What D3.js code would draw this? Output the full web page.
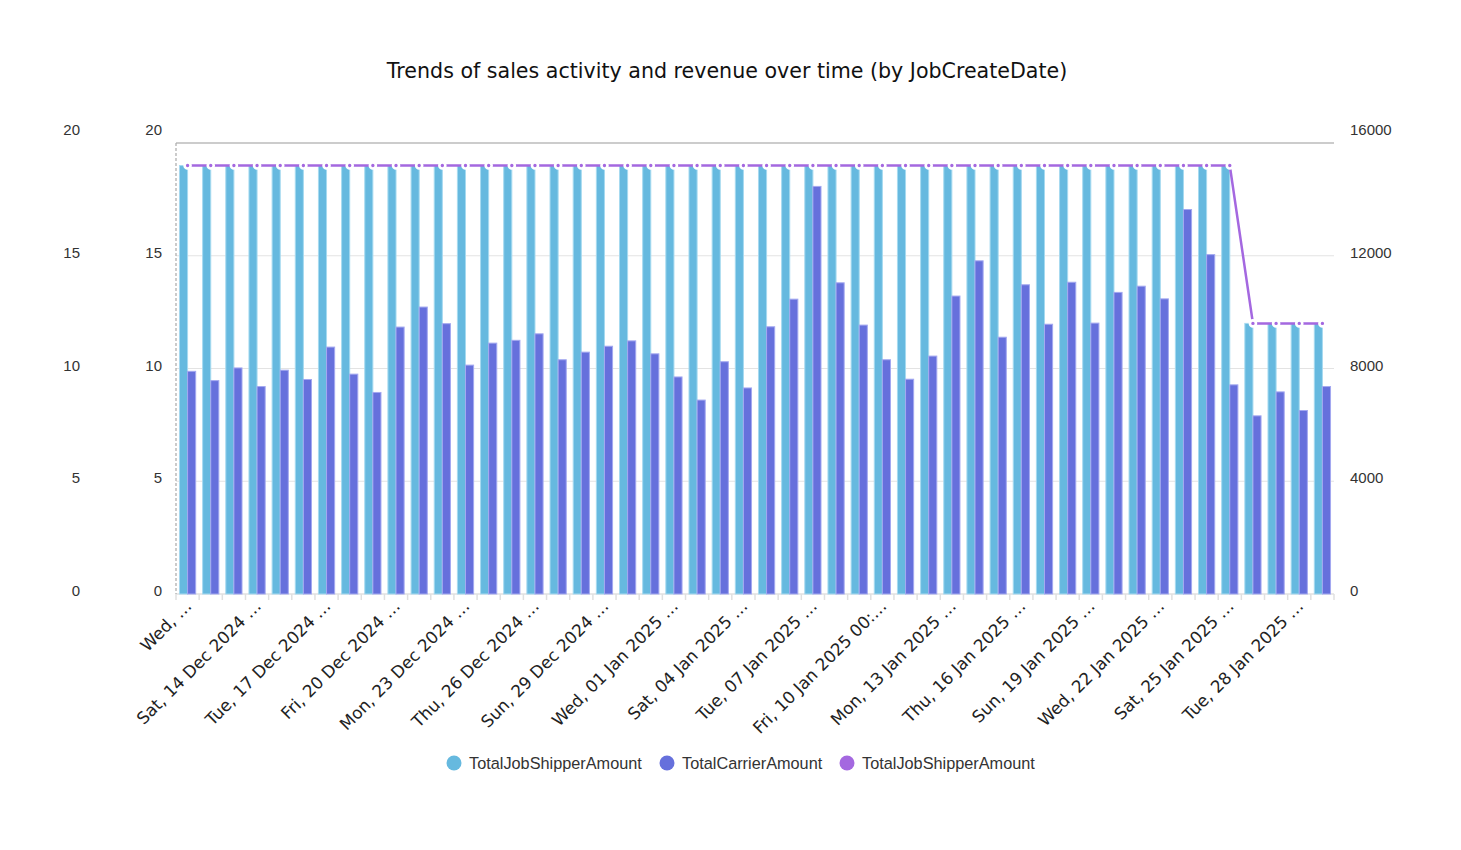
<!DOCTYPE html>
<html>
<head>
<meta charset="utf-8">
<script src="https://cdn.jsdelivr.net/npm/d3@7"></script>
<style>
  body { margin: 0; background: #fff; }
  svg text { fill: #333; }
</style>
</head>
<body>
<svg id="chart" width="1461" height="850"></svg>
<script>
// one entry per JobCreateDate
var categories = [
  "Wed, 11 Dec 2024", "Thu, 12 Dec 2024", "Fri, 13 Dec 2024", "Sat, 14 Dec 2024", "Sun, 15 Dec 2024",
  "Mon, 16 Dec 2024", "Tue, 17 Dec 2024", "Wed, 18 Dec 2024", "Thu, 19 Dec 2024", "Fri, 20 Dec 2024",
  "Sat, 21 Dec 2024", "Sun, 22 Dec 2024", "Mon, 23 Dec 2024", "Tue, 24 Dec 2024", "Wed, 25 Dec 2024",
  "Thu, 26 Dec 2024", "Fri, 27 Dec 2024", "Sat, 28 Dec 2024", "Sun, 29 Dec 2024", "Mon, 30 Dec 2024",
  "Tue, 31 Dec 2024", "Wed, 01 Jan 2025", "Thu, 02 Jan 2025", "Fri, 03 Jan 2025", "Sat, 04 Jan 2025",
  "Sun, 05 Jan 2025", "Mon, 06 Jan 2025", "Tue, 07 Jan 2025", "Wed, 08 Jan 2025", "Thu, 09 Jan 2025",
  "Fri, 10 Jan 2025", "Sat, 11 Jan 2025", "Sun, 12 Jan 2025", "Mon, 13 Jan 2025", "Tue, 14 Jan 2025",
  "Wed, 15 Jan 2025", "Thu, 16 Jan 2025", "Fri, 17 Jan 2025", "Sat, 18 Jan 2025", "Sun, 19 Jan 2025",
  "Mon, 20 Jan 2025", "Tue, 21 Jan 2025", "Wed, 22 Jan 2025", "Thu, 23 Jan 2025", "Fri, 24 Jan 2025",
  "Sat, 25 Jan 2025", "Sun, 26 Jan 2025", "Mon, 27 Jan 2025", "Tue, 28 Jan 2025", "Wed, 29 Jan 2025"
];

// bar series on the first left axis
var shipperBars = [
  19, 19, 19, 19, 19, 19, 19, 19, 19, 19,
  19, 19, 19, 19, 19, 19, 19, 19, 19, 19,
  19, 19, 19, 19, 19, 19, 19, 19, 19, 19,
  19, 19, 19, 19, 19, 19, 19, 19, 19, 19,
  19, 19, 19, 19, 19, 19, 12, 12, 12, 12
];

// bar series on the right axis
var carrierBars = [
  7900, 7570, 8020, 7360, 7940, 7610, 8760, 7800, 7150, 9470,
  10180, 9590, 8120, 8900, 9000, 9230, 8310, 8580, 8790, 8980,
  8520, 7700, 6880, 8240, 7310, 9480, 10460, 14460, 11040, 9540,
  8310, 7620, 8440, 10570, 11820, 9110, 10970, 9570, 11060, 9610,
  10700, 10920, 10470, 13640, 12040, 7420, 6320, 7170, 6510, 7360
];

// line series on the second left axis
var shipperLine = [
  19, 19, 19, 19, 19, 19, 19, 19, 19, 19,
  19, 19, 19, 19, 19, 19, 19, 19, 19, 19,
  19, 19, 19, 19, 19, 19, 19, 19, 19, 19,
  19, 19, 19, 19, 19, 19, 19, 19, 19, 19,
  19, 19, 19, 19, 19, 19, 12, 12, 12, 12
];

// labels shown under every third category
var tickLabels = [
  "Wed, \u2026", "Sat, 14 Dec 2024 \u2026", "Tue, 17 Dec 2024 \u2026", "Fri, 20 Dec 2024 \u2026",
  "Mon, 23 Dec 2024 \u2026", "Thu, 26 Dec 2024 \u2026", "Sun, 29 Dec 2024 \u2026", "Wed, 01 Jan 2025 \u2026",
  "Sat, 04 Jan 2025 \u2026", "Tue, 07 Jan 2025 \u2026", "Fri, 10 Jan 2025 00:\u2026", "Mon, 13 Jan 2025 \u2026",
  "Thu, 16 Jan 2025 \u2026", "Sun, 19 Jan 2025 \u2026", "Wed, 22 Jan 2025 \u2026", "Sat, 25 Jan 2025 \u2026",
  "Tue, 28 Jan 2025 \u2026"
];

var leftTicks = [0, 5, 10, 15, 20];
var rightTicks = [0, 4000, 8000, 12000, 16000];
var legendNames = ["TotalJobShipperAmount", "TotalCarrierAmount", "TotalJobShipperAmount"];

var colors = {
  shipper: "#66b9df",
  carrier: "#6670dc",
  line: "#a468e0"
};

var svg = d3.select("#chart");
var plot = { left: 176, right: 1334, top: 143, bottom: 594 };

var x = d3.scaleBand()
  .domain(categories)
  .range([plot.left, plot.right])
  .paddingInner(0.3)
  .paddingOuter(0.15);

var xSub = d3.scaleBand()
  .domain(["shipper", "carrier"])
  .range([0, x.bandwidth()]);

var yLeft = d3.scaleLinear().domain([0, 20]).range([plot.bottom, plot.top]);
var yLeft2 = d3.scaleLinear().domain([0, 20]).range([plot.bottom, plot.top]);
var yRight = d3.scaleLinear().domain([0, 16000]).range([plot.bottom, plot.top]);

var center = function(c) { return x(c) + x.bandwidth() / 2; };

// title
svg.append("text")
  .attr("x", 727)
  .attr("y", 78)
  .attr("text-anchor", "middle")
  .style("font-family", "'DejaVu Sans', sans-serif")
  .style("font-size", "20.6px")
  .style("fill", "#111")
  .text("Trends of sales activity and revenue over time (by JobCreateDate)");

// grid lines
svg.append("g")
  .selectAll("line.grid")
  .data(leftTicks.filter(function(t) { return t > 0 && t < 20; }))
  .enter()
  .append("line")
  .attr("x1", plot.left)
  .attr("x2", plot.right)
  .attr("y1", function(t) { return yLeft(t); })
  .attr("y2", function(t) { return yLeft(t); })
  .attr("stroke", "#e3e3e3")
  .attr("stroke-width", 1);

// top border
svg.append("line")
  .attr("x1", plot.left).attr("x2", plot.right)
  .attr("y1", plot.top).attr("y2", plot.top)
  .attr("stroke", "#bbb").attr("stroke-width", 1.5);

// x axis baseline and ticks
var gx = svg.append("g")
  .attr("transform", "translate(0," + plot.bottom + ")");
gx.append("line")
  .attr("x1", plot.left).attr("x2", plot.right)
  .attr("stroke", "#e0e0e0").attr("stroke-width", 1.5);
var step = x.step();
gx.selectAll("line.tick")
  .data(d3.range(categories.length + 1))
  .enter()
  .append("line")
  .attr("x1", function(i) { return plot.left + i * step; })
  .attr("x2", function(i) { return plot.left + i * step; })
  .attr("y1", 0).attr("y2", 6)
  .attr("stroke", "#e0e0e0").attr("stroke-width", 1.5);

// dashed left border
svg.append("line")
  .attr("x1", plot.left).attr("x2", plot.left)
  .attr("y1", plot.top).attr("y2", plot.bottom)
  .attr("stroke", "#aaa").attr("stroke-width", 1.2)
  .attr("stroke-dasharray", "3,2");

// bars
var groups = svg.append("g")
  .selectAll("g.cat")
  .data(categories)
  .enter()
  .append("g")
  .attr("transform", function(c) { return "translate(" + x(c) + ",0)"; });

groups.append("rect")
  .attr("x", xSub("shipper"))
  .attr("width", xSub.bandwidth())
  .attr("y", function(c, i) { return yLeft(shipperBars[i]); })
  .attr("height", function(c, i) { return plot.bottom - yLeft(shipperBars[i]); })
  .attr("fill", colors.shipper)
  .attr("stroke", "#a6daf0")
  .attr("stroke-width", 1);

groups.append("rect")
  .attr("x", xSub("carrier"))
  .attr("width", xSub.bandwidth())
  .attr("y", function(c, i) { return yRight(carrierBars[i]); })
  .attr("height", function(c, i) { return plot.bottom - yRight(carrierBars[i]); })
  .attr("fill", colors.carrier)
  .attr("stroke", "#a3a8f0")
  .attr("stroke-width", 1);

// line series
var line = d3.line()
  .x(function(d, i) { return center(categories[i]); })
  .y(function(d) { return yLeft2(d); });

svg.append("path")
  .datum(shipperLine)
  .attr("d", line)
  .attr("fill", "none")
  .attr("stroke", colors.line)
  .attr("stroke-width", 2.5);

// small dots with a white halo, gives the dash-dot look
svg.append("g")
  .selectAll("circle")
  .data(shipperLine)
  .enter()
  .append("circle")
  .attr("cx", function(d, i) { return center(categories[i]); })
  .attr("cy", function(d) { return yLeft2(d); })
  .attr("r", 3)
  .attr("fill", colors.line)
  .attr("stroke", "#fff")
  .attr("stroke-width", 2.6);

// y axes
function styleAxis(g) {
  g.select(".domain").remove();
  g.selectAll("line").remove();
  g.selectAll("text")
    .style("font-family", "'Liberation Sans', Arial, sans-serif")
    .style("font-size", "15px")
    .style("fill", "#333")
    .attr("dy", function(t) { return t === 20 || t === 16000 ? "-0.55em" : "0.1em"; });
}

svg.append("g")
  .attr("transform", "translate(80,0)")
  .call(d3.axisLeft(yLeft).tickValues(leftTicks).tickSize(0).tickPadding(0))
  .call(styleAxis);

svg.append("g")
  .attr("transform", "translate(162,0)")
  .call(d3.axisLeft(yLeft2).tickValues(leftTicks).tickSize(0).tickPadding(0))
  .call(styleAxis);

svg.append("g")
  .attr("transform", "translate(1350,0)")
  .call(d3.axisRight(yRight).tickValues(rightTicks).tickFormat(d3.format("d")).tickSize(0).tickPadding(0))
  .call(styleAxis);

// x labels, every third category
svg.append("g")
  .selectAll("text")
  .data(tickLabels)
  .enter()
  .append("text")
  .attr("transform", function(t, i) {
    return "translate(" + (center(categories[i * 3]) + 1) + "," + (plot.bottom + 9) + ") rotate(-45)";
  })
  .attr("text-anchor", "end")
  .attr("dy", "0.35em")
  .style("font-family", "'DejaVu Sans', Verdana, sans-serif")
  .style("font-size", "16.8px")
  .style("fill", "#222")
  .text(function(t) { return t; });

// legend
var legendColors = [colors.shipper, colors.carrier, colors.line];
var legendX = [454, 667, 847];
var legend = svg.append("g")
  .selectAll("g")
  .data(legendNames)
  .enter()
  .append("g")
  .attr("transform", function(n, i) { return "translate(" + legendX[i] + ",763)"; });
legend.append("circle")
  .attr("r", 7.5)
  .attr("fill", function(n, i) { return legendColors[i]; });
legend.append("text")
  .attr("x", 15)
  .attr("dy", "0.35em")
  .style("font-family", "'Liberation Sans', Arial, sans-serif")
  .style("font-size", "16.3px")
  .style("fill", "#333")
  .text(function(n) { return n; });
</script>
</body>
</html>
